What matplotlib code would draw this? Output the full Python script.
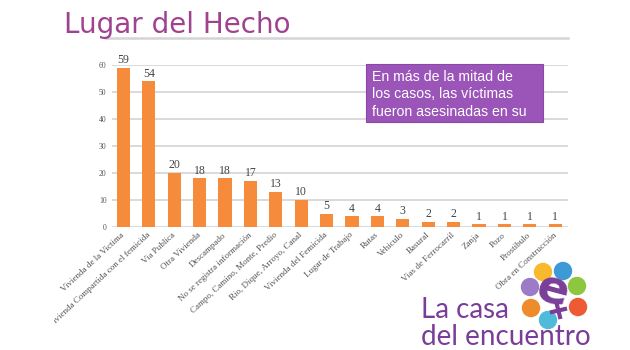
import matplotlib
matplotlib.use("Agg")
import matplotlib.pyplot as plt
from matplotlib.patches import Rectangle, Circle
from matplotlib.transforms import Bbox

# ----------------------------------------------------------------------
# Data
# ----------------------------------------------------------------------
categories = [
    "Vivienda de la Victima",
    "Vivienda Compartida con el femicida",
    "Via Publica",
    "Otra Vivienda",
    "Descampado",
    "No se registra información",
    "Campo, Camino, Monte, Predio",
    "Rio, Dique, Arroyo, Canal",
    "Vivienda del Femicida",
    "Lugar de Trabajo",
    "Rutas",
    "Vehiculo",
    "Basural",
    "Vias de Ferrocarril",
    "Zanja",
    "Pozo",
    "Prostibulo",
    "Obra en Construcción",
]
counts = [59, 54, 20, 18, 18, 17, 13, 10, 5, 4, 4, 3, 2, 2, 1, 1, 1, 1]
y_ticks = [0, 10, 20, 30, 40, 50, 60]

title = "Lugar del Hecho"
note_lines = ["En más de la mitad de", "los casos, las víctimas", "fueron asesinadas en su"]

BAR_COLOR = "#F68B3B"
GRID_COLOR = "#CFCFCF"
TITLE_COLOR = "#A0438F"
BOX_COLOR = "#9B55B9"
LOGO_PURPLE = "#7A3E98"

W, H = 630, 350
fig = plt.figure(figsize=(W / 100, H / 100), dpi=100)
fig.patch.set_facecolor("white")

# ----------------------------------------------------------------------
# Bar chart
# ----------------------------------------------------------------------
ax = fig.add_axes([112 / W, 1 - 227 / H, (568 - 112) / W, (227 - 65) / H])
x = range(len(categories))
ax.bar(x, counts, width=0.52, color=BAR_COLOR, zorder=3)
ax.set_xlim(-0.45, len(categories) - 0.5)
ax.set_ylim(0, 60)
ax.set_yticks(y_ticks)
ax.set_yticklabels([str(t) for t in y_ticks], fontsize=5.5, color="#555555",
                   fontfamily="Liberation Serif")
ax.yaxis.grid(True, color=GRID_COLOR, lw=1.1, zorder=0)
ax.tick_params(axis="both", length=0)
ax.tick_params(axis="y", pad=4)
for s in ax.spines.values():
    s.set_visible(False)

ax.set_xticks(list(x))
ax.set_xticklabels(categories, rotation=43, ha="right", va="center",
                   rotation_mode="anchor", fontsize=6.5, color="#555555",
                   fontfamily="Liberation Serif")
ax.tick_params(axis="x", pad=5)

# the slide crops the chart image a little on the left
crop = Bbox.from_extents(54, 0, W, H)
for lbl in ax.get_xticklabels():
    lbl.set_clip_box(crop)
    lbl.set_clip_on(True)

for xi, v in zip(x, counts):
    ax.text(xi, v + 0.6, str(v), ha="center", va="bottom", fontsize=8.5,
            color="#444444", fontfamily="Liberation Serif", clip_on=False)

# ----------------------------------------------------------------------
# Overlay in pixel coordinates: title, note box, logo
# ----------------------------------------------------------------------
ov = fig.add_axes([0, 0, 1, 1])
ov.set_xlim(0, W)
ov.set_ylim(H, 0)
ov.axis("off")

ov.text(64, 33, title, fontsize=20, color=TITLE_COLOR, ha="left",
        va="baseline", fontfamily="DejaVu Sans")
ov.plot([105, 568], [38, 38], color="#D4D4D4", lw=1.8)

ov.add_patch(Rectangle((366, 64), 177, 58, facecolor=BOX_COLOR,
                       edgecolor="#8A46A8", lw=0.8))
for i, line in enumerate(note_lines):
    ov.text(372, 77 + i * 17.5, line, fontsize=10.2, color="white",
            ha="left", va="center", fontfamily="Liberation Sans")

# logo circles
dots = [
    (543, 272, "#F8B92C"), (563, 271, "#3D9AD6"), (530, 287, "#9C7CC6"),
    (577, 286, "#8DC63F"), (531, 308, "#EE8B2C"), (578, 307, "#EE5A35"),
    (548, 320, "#4FBAD9"),
]
for cx, cy, c in dots:
    ov.add_patch(Circle((cx, cy), 8.5, color=c))
ov.text(553, 292, "e", fontsize=34, fontweight="bold", color=LOGO_PURPLE,
        ha="center", va="center", rotation=-15, fontfamily="DejaVu Sans")
ov.plot([557, 560], [305, 317], color=LOGO_PURPLE, lw=3)
ov.plot([552, 565], [312, 309], color=LOGO_PURPLE, lw=3)

ov.text(421, 318, "La casa", fontsize=20, color=LOGO_PURPLE, ha="left",
        va="baseline", fontfamily="Lato")
ov.text(421, 345, "del encuentro", fontsize=20, color=LOGO_PURPLE, ha="left",
        va="baseline", fontfamily="Lato")

fig.savefig("out.png", dpi=100)
